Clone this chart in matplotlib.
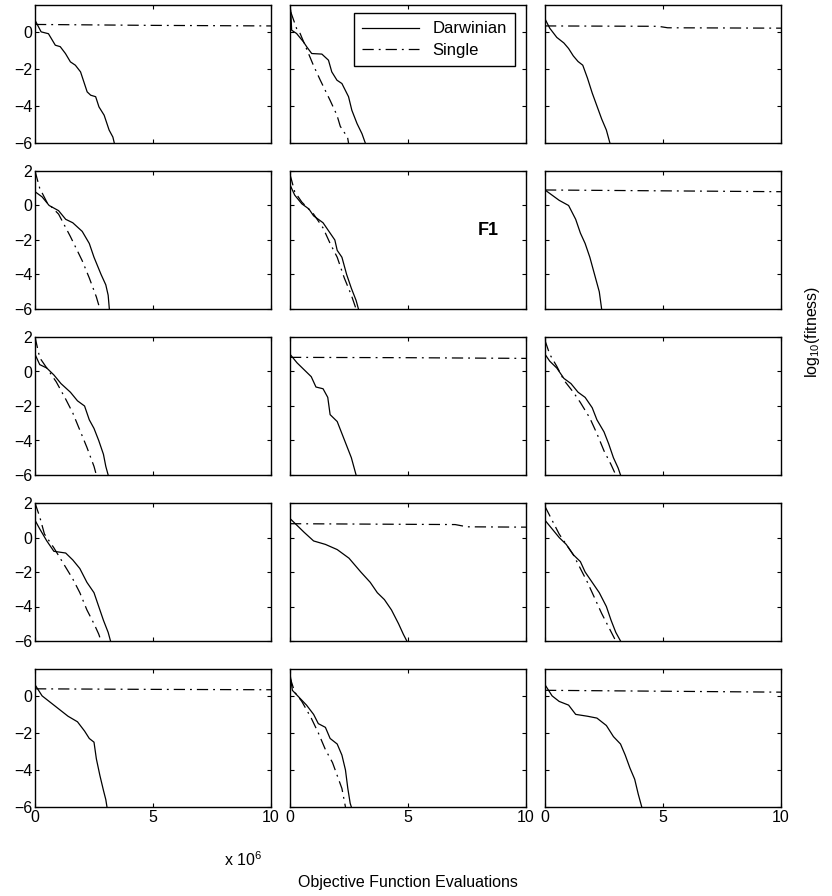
import matplotlib
matplotlib.use("Agg")
import matplotlib.pyplot as plt

plt.rcParams['font.family'] = ['Liberation Sans', 'DejaVu Sans']
plt.rcParams['mathtext.fontset'] = 'custom'
plt.rcParams['mathtext.rm'] = 'Liberation Sans'

# x values in units of 1e6 objective function evaluations, y = log10(fitness)
# Panel naming: p<row><col>
p11_dx = [0.0, 0.26, 0.57, 0.86, 1.07, 1.29, 1.5, 1.71, 1.93, 2.07, 2.21, 2.36, 2.57, 2.71, 2.93, 3.14, 3.3, 3.36]
p11_dy = [0.63, 0.0, -0.1, -0.72, -0.8, -1.17, -1.62, -1.8, -2.16, -2.7, -3.24, -3.42, -3.5, -4.05, -4.5, -5.3, -5.68, -6.0]
p11_sx = [0.0, 5.0, 10.0]
p11_sy = [0.4, 0.35, 0.32]

p12_dx = [0.03, 0.07, 0.28, 0.57, 0.71, 0.92, 1.35, 1.63, 1.77, 1.99, 2.2, 2.48, 2.62, 2.84, 3.05, 3.19]
p12_dy = [1.17, 0.09, -0.09, -0.54, -0.81, -1.17, -1.2, -1.53, -2.16, -2.61, -2.79, -3.5, -4.23, -4.95, -5.5, -6.0]
p12_sx = [0.03, 0.28, 0.43, 0.99, 1.28, 1.49, 1.7, 1.99, 2.13, 2.44, 2.48]
p12_sy = [1.08, 0.18, -0.09, -1.8, -2.6, -3.15, -3.7, -4.5, -5.1, -5.7, -6.0]

p13_dx = [0.0, 0.2, 0.5, 0.8, 1.0, 1.2, 1.4, 1.6, 1.8, 2.0, 2.2, 2.4, 2.6, 2.75]
p13_dy = [0.7, 0.2, -0.3, -0.6, -0.9, -1.3, -1.6, -1.8, -2.5, -3.3, -4.0, -4.7, -5.3, -6.0]
p13_sx = [0.0, 4.8, 5.2, 10.0]
p13_sy = [0.32, 0.3, 0.22, 0.2]

p21_dx = [0.0, 0.3, 0.6, 1.0, 1.3, 1.6, 2.0, 2.3, 2.5, 2.8, 3.0, 3.1, 3.15]
p21_dy = [0.8, 0.5, 0.0, -0.3, -0.8, -1.0, -1.5, -2.2, -3.0, -4.0, -4.6, -5.2, -6.0]
p21_sx = [0.0, 0.2, 0.5, 1.0, 1.5, 2.0, 2.3, 2.6, 2.75]
p21_sy = [2.0, 1.0, 0.2, -0.5, -1.8, -3.2, -4.2, -5.3, -6.0]

p22_dx = [0.0, 0.2, 0.5, 0.8, 1.0, 1.4, 1.7, 1.9, 2.0, 2.2, 2.4, 2.6, 2.8, 2.9]
p22_dy = [1.2, 0.6, 0.1, -0.2, -0.6, -1.0, -1.6, -2.0, -2.6, -3.0, -4.0, -4.8, -5.5, -6.0]
p22_sx = [0.0, 0.2, 0.5, 1.0, 1.4, 1.7, 2.0, 2.3, 2.6, 2.8]
p22_sy = [1.8, 0.8, 0.2, -0.5, -1.3, -2.2, -3.0, -4.2, -5.2, -6.0]

p23_dx = [0.0, 0.3, 0.6, 1.0, 1.3, 1.5, 1.7, 1.9, 2.1, 2.3, 2.4]
p23_dy = [0.9, 0.6, 0.3, 0.0, -0.8, -1.6, -2.2, -3.0, -4.0, -5.0, -6.0]
p23_sx = [0.0, 5.0, 10.0]
p23_sy = [0.9, 0.85, 0.8]

p31_dx = [0.0, 0.2, 0.5, 0.8, 1.1, 1.5, 1.8, 2.1, 2.3, 2.5, 2.7, 2.9, 3.0, 3.1]
p31_dy = [1.0, 0.4, 0.2, -0.2, -0.7, -1.2, -1.7, -2.0, -2.8, -3.3, -4.0, -4.8, -5.5, -6.0]
p31_sx = [0.0, 0.2, 0.5, 0.9, 1.3, 1.6, 1.9, 2.2, 2.5, 2.6]
p31_sy = [2.0, 0.8, 0.2, -0.6, -1.6, -2.4, -3.4, -4.4, -5.5, -6.0]

p32_dx = [0.0, 0.3, 0.6, 0.9, 1.1, 1.4, 1.6, 1.7, 2.0, 2.2, 2.4, 2.6, 2.7, 2.8]
p32_dy = [1.0, 0.5, 0.1, -0.3, -0.9, -1.0, -1.5, -2.5, -2.9, -3.6, -4.3, -5.0, -5.5, -6.0]
p32_sx = [0.0, 5.0, 10.0]
p32_sy = [0.82, 0.8, 0.76]

p33_dx = [0.0, 0.2, 0.5, 0.8, 1.1, 1.4, 1.7, 2.0, 2.2, 2.5, 2.7, 2.9, 3.1, 3.2]
p33_dy = [1.0, 0.6, 0.2, -0.4, -0.7, -1.2, -1.5, -2.1, -2.8, -3.5, -4.2, -5.0, -5.6, -6.0]
p33_sx = [0.0, 0.2, 0.5, 0.8, 1.2, 1.5, 1.9, 2.2, 2.5, 2.8, 3.0]
p33_sy = [1.8, 1.0, 0.3, -0.5, -1.2, -1.8, -2.7, -3.6, -4.6, -5.4, -6.0]

p41_dx = [0.0, 0.2, 0.5, 0.8, 1.3, 1.6, 1.9, 2.2, 2.5, 2.7, 2.9, 3.1, 3.2]
p41_dy = [1.0, 0.5, -0.2, -0.8, -0.9, -1.3, -1.8, -2.6, -3.2, -4.0, -4.8, -5.5, -6.0]
p41_sx = [0.0, 0.2, 0.4, 0.8, 1.2, 1.6, 1.9, 2.2, 2.5, 2.7, 2.8]
p41_sy = [2.0, 1.2, 0.2, -0.6, -1.5, -2.4, -3.2, -4.2, -5.0, -5.6, -6.0]

p42_dx = [0.0, 0.3, 0.6, 1.0, 1.5, 2.0, 2.5, 3.0, 3.4, 3.7, 4.0, 4.3, 4.6, 4.8, 4.95]
p42_dy = [1.1, 0.7, 0.3, -0.2, -0.4, -0.7, -1.2, -2.0, -2.6, -3.2, -3.6, -4.2, -5.0, -5.6, -6.0]
p42_sx = [0.0, 7.0, 7.5, 10.0]
p42_sy = [0.8, 0.75, 0.62, 0.6]

p43_dx = [0.0, 0.3, 0.6, 0.9, 1.2, 1.5, 1.7, 2.0, 2.3, 2.6, 2.8, 3.0, 3.2]
p43_dy = [1.0, 0.5, 0.0, -0.4, -1.0, -1.4, -2.0, -2.6, -3.2, -4.0, -4.8, -5.5, -6.0]
p43_sx = [0.0, 0.3, 0.6, 0.9, 1.2, 1.5, 1.8, 2.1, 2.4, 2.7, 3.0]
p43_sy = [1.8, 1.0, 0.2, -0.4, -1.0, -1.8, -2.6, -3.5, -4.4, -5.2, -6.0]

p51_dx = [0.0, 0.3, 0.6, 1.0, 1.4, 1.8, 2.1, 2.3, 2.5, 2.6, 2.75, 2.9, 3.0, 3.05]
p51_dy = [0.6, 0.0, -0.3, -0.7, -1.1, -1.4, -1.9, -2.3, -2.5, -3.4, -4.3, -5.1, -5.6, -6.0]
p51_sx = [0.0, 5.0, 10.0]
p51_sy = [0.38, 0.35, 0.33]

p52_dx = [0.0, 0.1, 0.4, 0.7, 1.0, 1.2, 1.5, 1.7, 2.0, 2.2, 2.35, 2.45, 2.55, 2.6]
p52_dy = [1.2, 0.3, -0.1, -0.5, -1.0, -1.5, -1.7, -2.3, -2.6, -3.2, -4.0, -5.0, -5.8, -6.0]
p52_sx = [0.0, 0.2, 0.5, 0.9, 1.2, 1.5, 1.8, 2.0, 2.2, 2.35]
p52_sy = [1.0, 0.2, -0.3, -1.2, -2.0, -2.9, -3.6, -4.3, -5.0, -6.0]

p53_dx = [0.0, 0.3, 0.6, 1.0, 1.3, 1.8, 2.2, 2.6, 2.9, 3.2, 3.4, 3.6, 3.8, 3.95, 4.1]
p53_dy = [0.6, 0.0, -0.3, -0.5, -1.0, -1.1, -1.2, -1.6, -2.2, -2.6, -3.2, -3.9, -4.5, -5.3, -6.0]
p53_sx = [0.0, 5.0, 10.0]
p53_sy = [0.3, 0.25, 0.2]

panels = [
    [(p11_dx, p11_dy, p11_sx, p11_sy), (p12_dx, p12_dy, p12_sx, p12_sy), (p13_dx, p13_dy, p13_sx, p13_sy)],
    [(p21_dx, p21_dy, p21_sx, p21_sy), (p22_dx, p22_dy, p22_sx, p22_sy), (p23_dx, p23_dy, p23_sx, p23_sy)],
    [(p31_dx, p31_dy, p31_sx, p31_sy), (p32_dx, p32_dy, p32_sx, p32_sy), (p33_dx, p33_dy, p33_sx, p33_sy)],
    [(p41_dx, p41_dy, p41_sx, p41_sy), (p42_dx, p42_dy, p42_sx, p42_sy), (p43_dx, p43_dy, p43_sx, p43_sy)],
    [(p51_dx, p51_dy, p51_sx, p51_sy), (p52_dx, p52_dy, p52_sx, p52_sy), (p53_dx, p53_dy, p53_sx, p53_sy)],
]
row_ylim_top = [1.45, 2.0, 2.0, 2.0, 1.45]
series_names = ["Darwinian", "Single"]
x_ticks = [0, 5, 10]
y_ticks = [-6, -4, -2, 0, 2]

W, H = 832, 896
fig = plt.figure(figsize=(W / 100, H / 100), dpi=100)
col_left = [35, 290, 545]
pw, ph = 236, 138
row_top = [5, 171, 337, 503, 669]
fs = 11.5
dashdot = (0, (9, 4, 1.5, 4))

for r in range(5):
    for c in range(3):
        L = col_left[c] / W
        B = 1 - (row_top[r] + ph) / H
        ax = fig.add_axes([L, B, pw / W, ph / H])
        dx, dy, sx, sy = panels[r][c]
        ax.plot(dx, dy, color='black', lw=0.9, label=series_names[0])
        ax.plot(sx, sy, color='black', lw=0.9, linestyle=dashdot, label=series_names[1])
        ax.set_xlim(0, 10)
        ax.set_ylim(-6, row_ylim_top[r])
        ax.set_xticks(x_ticks)
        ax.set_yticks([t for t in y_ticks if t <= row_ylim_top[r]])
        ax.tick_params(direction='in', length=3, width=0.8, top=True, right=True,
                       labelsize=fs, pad=2, colors='black')
        if r != 4:
            ax.set_xticklabels([])
        if c != 0:
            ax.set_yticklabels([])
        for s in ax.spines.values():
            s.set_linewidth(1.0)
            s.set_color('black')
        if r == 0 and c == 1:
            leg = ax.legend(loc='upper right', bbox_to_anchor=(0.953, 0.942),
                            borderaxespad=0, fontsize=12, frameon=True, fancybox=False,
                            framealpha=1, edgecolor='black', handlelength=3.4,
                            borderpad=0.5, labelspacing=0.4, handletextpad=0.8)
            leg.get_frame().set_linewidth(1.0)
        if r == 1 and c == 1:
            ax.text(0.84, 0.57, "F1", transform=ax.transAxes, fontsize=13,
                    fontweight='bold', ha='center', va='center')

fig.text(243 / W, 1 - 860 / H, r'x 10$^{6}$', fontsize=fs, ha='center', va='center')
fig.text(408 / W, 1 - 882 / H, 'Objective Function Evaluations', fontsize=fs,
         ha='center', va='center')
fig.text(812 / W, 1 - 332 / H, r'log$_{10}$(fitness)', fontsize=fs, rotation=90,
         ha='center', va='center')

fig.savefig('out.png', dpi=100, facecolor='white')
